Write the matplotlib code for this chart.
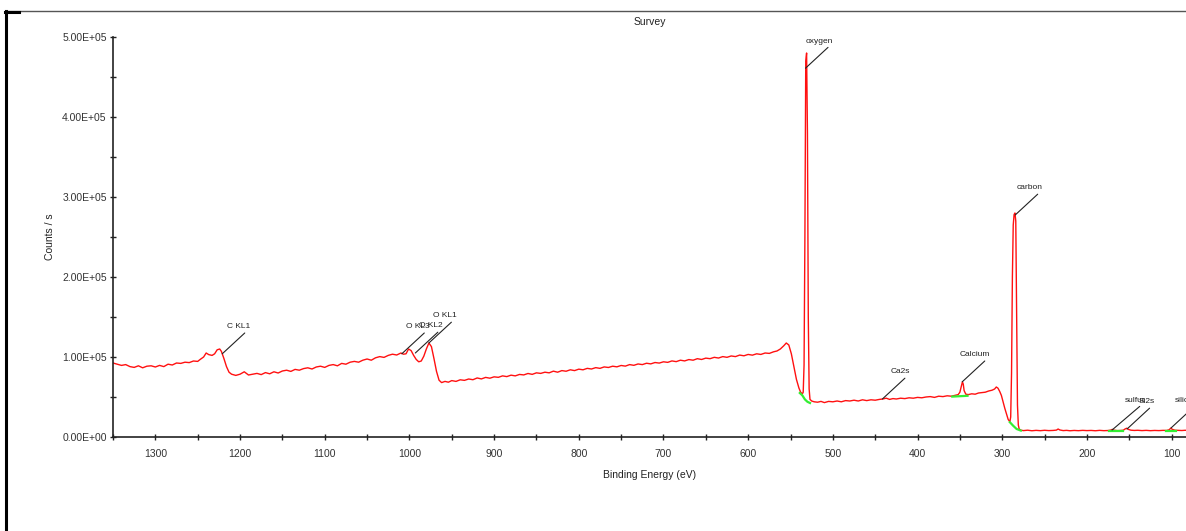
import numpy as np
import matplotlib
matplotlib.use('Agg')
import matplotlib.pyplot as plt
from matplotlib.lines import Line2D
from matplotlib.ticker import MultipleLocator, FuncFormatter

plt.rcParams['font.family'] = ['Liberation Sans', 'DejaVu Sans']

# survey spectrum (eV, counts/s)
energy = [1350, 1345, 1340, 1335, 1330, 1325, 1320, 1315, 1310, 1305, 1300, 1295, 1290, 1285, 1280,
          1275, 1270, 1265, 1260, 1255, 1250,
          1247, 1243, 1240, 1237, 1233, 1230, 1227, 1224, 1222, 1219, 1216, 1213, 1210, 1205, 1200,
          1195, 1190,
          1185, 1180, 1175, 1170, 1165, 1160, 1155, 1150, 1145, 1140, 1135, 1130, 1125, 1120, 1115,
          1110, 1105, 1100, 1095, 1090, 1085, 1080, 1075, 1070, 1065, 1060, 1055, 1050, 1045, 1040,
          1035, 1030, 1025, 1020, 1015, 1010,
          1007, 1004, 1001, 998, 995, 992, 989, 986, 983, 980, 977, 974, 971, 968, 965, 962, 958, 954,
          950, 945, 940, 935, 930, 925, 920, 915, 910, 905, 900, 895, 890, 885, 880, 875, 870, 865,
          860, 855, 850, 845, 840, 835, 830, 825, 820, 815, 810, 805, 800, 795, 790, 785, 780, 775,
          770, 765, 760, 755, 750, 745, 740, 735, 730, 725, 720, 715, 710, 705, 700, 695, 690, 685,
          680, 675, 670, 665, 660, 655, 650, 645, 640, 635, 630, 625, 620, 615, 610, 605, 600, 595,
          590, 585, 580,
          575, 570, 566, 562, 558, 555, 552, 549, 546, 543, 540, 538, 536, 535, 534, 533, 532, 531,
          530, 529, 528, 527, 525, 522, 518, 514, 510, 505, 500, 495, 490, 485, 480, 475, 470, 465,
          460, 455, 450, 445, 441, 437, 433, 429, 425, 420, 415, 410, 405, 400, 395, 390, 385, 380,
          375, 370, 365, 360, 356, 352, 350, 348, 347, 346, 345, 343, 340, 336, 332, 328, 324, 320,
          316, 312, 309, 307, 305, 303, 301, 299, 297, 295, 293, 291, 290, 289, 288, 287, 286, 285,
          284, 283, 282, 281, 280, 278, 275, 270, 265, 260, 255, 250, 245, 240, 236, 234, 232, 228,
          224, 220, 215, 210, 205, 200, 195, 190, 185, 180, 175, 172, 170, 168, 164, 160, 157, 155,
          153, 151, 148, 144, 140, 135, 130, 125, 120, 115, 110, 106, 103, 101, 99, 96, 92, 88, 84, 80]

counts = [92500, 91000, 89500, 90500, 88000, 87000, 89000, 86500, 88500, 89000, 87500, 89500, 88000,
          91000, 90000, 92500, 92000, 93500, 93000, 95000, 94500,
          97000, 100000, 105000, 103000, 102000, 104000, 109000, 110000, 107000, 98000, 88000, 81000,
          78500, 77000, 78500, 81500, 77500,
          78500, 79500, 78000, 80500, 79000, 81500, 80000, 82500, 83500, 82000, 84500, 83500, 85500,
          86500, 85000, 87500, 88500, 87000, 89500, 90500, 89000, 92000, 91000, 93500, 94500, 93500,
          96000, 97500, 96000, 99000, 100500, 99500, 102000, 103500, 102500, 105000,
          103500, 104000, 110000, 108000, 102000, 97000, 94000, 95000, 101000, 110000, 117500,
          113000, 98000, 82000, 71000, 68000, 69500, 68500,
          70500, 69500, 71500, 70800, 72500, 71600, 73800, 72600, 74500, 73500, 75200, 74600, 76400,
          75500, 77300, 76400, 78200, 77600, 79400, 78300, 80200, 79500, 81000, 80200, 82300, 81000,
          83000, 82200, 84000, 83000, 84800, 84000, 85800, 85000, 86700, 85800, 87600, 86900, 88500,
          87700, 89400, 88600, 90500, 89600, 91300, 90500, 92200, 91400, 93100, 92400, 94000, 93300,
          95100, 94200, 96000, 95100, 96800, 96000, 97900, 96900, 98600, 97900, 99600, 98700,
          100500, 99600, 101300, 100500, 102400, 101500, 103200, 102300, 104000, 103200, 105000,
          104500, 106500, 107500, 110000, 114000, 117500, 115000, 104000, 88000, 72000, 61000,
          56000, 54000, 56000, 90000, 250000, 470000, 480000, 380000, 150000, 60000, 47000, 45000,
          44000, 43500, 44500, 43000, 44500, 44000, 45000, 44000, 45500, 45000, 46000, 45000, 46500,
          45500, 46500, 46000, 47000, 47500, 48500, 47000, 48000, 47500, 48500, 48000, 49000, 48500,
          49500, 49000, 50000, 50500, 49500, 51000, 50500, 51500, 51000, 52000, 53000, 56000, 65000,
          69000, 66000, 58000, 53500, 53000, 54000, 53500, 55000, 55500, 56000, 57500, 58500, 60000,
          62500, 61000, 57000, 52000, 44000, 36000, 29000, 22000, 19000, 25000, 80000, 200000,
          265000, 278000, 280000, 270000, 150000, 40000, 15000, 10000, 8500, 8000, 8500, 7800, 8300,
          7900, 8400, 8000, 8200, 8600, 10000, 8800, 8000, 8300, 7800, 8200, 7900, 8300, 8000, 8200,
          7800, 8300, 7900, 8100, 8600, 9500, 8500, 8000, 8200, 8500, 10000, 11000, 9500, 8500, 8200,
          8400, 8000, 8300, 7900, 8200, 8000, 8300, 8200, 9000, 11000, 9500, 8500, 8300, 8100, 8400,
          8200]

# fitted backgrounds under the marked peaks
bg_o_e = [539, 536, 533, 530, 527]
bg_o_c = [55000, 52000, 47000, 44000, 42500]
bg_ca_e = [359, 341]
bg_ca_c = [50500, 51500]
bg_c_e = [291, 287, 283, 278]
bg_c_c = [18500, 14000, 10000, 8000]
bg_s_e = [174, 157]
bg_s_c = [7200, 7200]
bg_si_e = [107, 95]
bg_si_c = [7200, 7200]

# peak labels: text, energy, counts
labels = ['C KL1', 'O KL3', 'O KL2', 'O KL1', 'oxygen', 'carbon', 'Ca2s', 'Calcium',
          'sulfur', 'Si2s', 'silicon']
label_e = [1221, 1009, 993, 977, 532.3, 284.7, 441.5, 347.2, 170.3, 152.6, 100.7]
label_c = [104000, 104000, 105000, 117500, 461000, 277500, 47500, 69000, 8750, 10000, 11250]

fig = plt.figure(figsize=(11.86, 5.31), dpi=100)
ax = fig.add_axes([113 / 1186, 94 / 531, 1073 / 1186, 400 / 531])

ax.plot(energy, counts, color='#ff1010', lw=1.0)
for e, c in [(bg_o_e, bg_o_c), (bg_ca_e, bg_ca_c), (bg_c_e, bg_c_c),
             (bg_s_e, bg_s_c), (bg_si_e, bg_si_c)]:
    ax.plot(e, c, color='#33ee33', lw=1.6)

for lab, e, c in zip(labels, label_e, label_c):
    off = (24, 21.5) if lab == 'sulfur' else (20, 19.5)
    ax.annotate(lab, xy=(e, c), xytext=off, textcoords='offset points',
                ha='right', va='center', fontsize=6, color='#222222',
                annotation_clip=False,
                arrowprops=dict(arrowstyle='-', color='#222222', lw=0.8,
                                shrinkA=0, shrinkB=0, relpos=(1, 0.3)))

ax.set_xlim(1350, 83)
ax.set_ylim(0, 500000)

ax.xaxis.set_major_locator(MultipleLocator(100))
ax.xaxis.set_minor_locator(MultipleLocator(50))
ax.yaxis.set_major_locator(MultipleLocator(100000))
ax.yaxis.set_minor_locator(MultipleLocator(50000))
ax.yaxis.set_major_formatter(FuncFormatter(lambda v, p: f'{v:.2E}'))

ax.tick_params(which='both', direction='inout', length=5, width=1, color='#222222',
               labelsize=7.5, labelcolor='#333333')
ax.tick_params(axis='x', pad=6)
ax.tick_params(axis='y', pad=2)

for s in ['top', 'right']:
    ax.spines[s].set_visible(False)
for s in ['left', 'bottom']:
    ax.spines[s].set_color('#222222')
    ax.spines[s].set_linewidth(1.2)

ax.set_xlabel('Binding Energy (eV)', fontsize=7.5, color='#222222', labelpad=8)
ax.set_ylabel('Counts / s', fontsize=7.5, color='#222222', labelpad=5)
ax.set_title('Survey', fontsize=7.5, color='#222222', pad=9)

# screenshot frame
fig.add_artist(Line2D([6 / 1186, 6 / 1186], [0, 1 - 11 / 531], transform=fig.transFigure,
                      color='black', lw=2.2))
fig.add_artist(Line2D([6 / 1186, 1], [1 - 11 / 531, 1 - 11 / 531], transform=fig.transFigure,
                      color='#555555', lw=1.0))
fig.add_artist(Line2D([5 / 1186, 19 / 1186], [1 - 12 / 531, 1 - 12 / 531], transform=fig.transFigure,
                      color='black', lw=2.2))

fig.savefig('out.png', dpi=100)
